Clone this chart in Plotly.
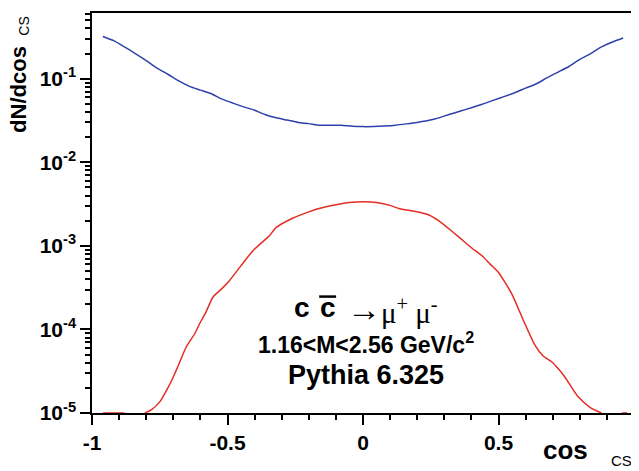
import plotly.graph_objects as go

# ---------------- data ----------------
blue_x = [-0.96, -0.92, -0.88, -0.84, -0.80, -0.76, -0.72, -0.68, -0.64, -0.60, -0.56,
          -0.52, -0.48, -0.44, -0.40, -0.36, -0.32, -0.28, -0.24, -0.20, -0.16, -0.12,
          -0.08, -0.04, 0.00, 0.04, 0.08, 0.12, 0.16, 0.20, 0.24, 0.28, 0.32, 0.36,
          0.40, 0.44, 0.48, 0.52, 0.56, 0.60, 0.64, 0.68, 0.72, 0.76, 0.80, 0.84,
          0.88, 0.92, 0.96]
blue_y = [0.320, 0.285, 0.240, 0.200, 0.165, 0.134, 0.113, 0.094, 0.081, 0.073, 0.066,
          0.057, 0.051, 0.046, 0.042, 0.037, 0.034, 0.032, 0.030, 0.029, 0.0277, 0.0278,
          0.0277, 0.0270, 0.0267, 0.0268, 0.0272, 0.0278, 0.0288, 0.0300, 0.0316, 0.0340, 0.0375, 0.0410,
          0.0450, 0.0495, 0.0550, 0.0610, 0.0680, 0.0770, 0.0870, 0.1030, 0.1200, 0.1400, 0.1700, 0.2000,
          0.2400, 0.2750, 0.3070]

red_x = [-0.96, -0.88, None,
         -0.805, -0.78, -0.75, -0.72, -0.70, -0.68, -0.652, -0.62, -0.603, -0.58,
         -0.554, -0.52, -0.493, -0.45, -0.407, -0.38, -0.346, -0.321, -0.26, -0.20,
         -0.162, -0.10, -0.05, 0.00, 0.05, 0.10, 0.132, 0.194, 0.243, 0.279, 0.304,
         0.353, 0.40, 0.439, 0.47, 0.50, 0.549, 0.592, 0.635, 0.665, 0.696, 0.72,
         0.745, 0.794, 0.84, 0.88, None, 0.955, 0.975]
red_y = [1e-5, 1e-5, None,
         1.0e-5, 1.1e-5, 1.36e-5, 2.0e-5, 2.7e-5, 3.8e-5, 6.2e-5, 9.0e-5, 1.17e-4, 1.6e-4,
         2.43e-4, 3.1e-4, 3.83e-4, 5.8e-4, 8.7e-4, 1.05e-3, 1.31e-3, 1.65e-3, 2.14e-3, 2.55e-3,
         2.8e-3, 3.1e-3, 3.3e-3, 3.37e-3, 3.3e-3, 3.05e-3, 2.8e-3, 2.57e-3, 2.34e-3, 2.0e-3, 1.73e-3,
         1.28e-3, 9.5e-4, 7.6e-4, 6.0e-4, 4.8e-4, 2.66e-4, 1.28e-4, 6.45e-5, 4.8e-5, 4.1e-5, 3.4e-5,
         2.7e-5, 1.56e-5, 1.15e-5, 1.0e-5, None, 1e-5, 1e-5]

x_tickvals = [-1, -0.5, 0, 0.5, 1]
x_ticktext = ["-1", "-0.5", "0", "0.5", "1"]
y_tickvals = [1e-5, 1e-4, 1e-3, 1e-2, 1e-1]
y_ticktext = ["10<sup>-5</sup>", "10<sup>-4</sup>", "10<sup>-3</sup>", "10<sup>-2</sup>", "10<sup>-1</sup>"]

# ---------------- layout helpers ----------------
# page body has an 8px default margin: figure is drawn offset by (8, 8)
OFF = 8
W, H = 639 - OFF, 471 - OFF
# plot area in page pixels
L, R, T, B = 92, 636, 11, 413


def pxx(x):
    return (x - L) / (R - L)


def pxy(y):
    return (B - y) / (B - T)


y_minor = [k * 10 ** e for e in range(-5, 0) for k in range(2, 10)]
y_minor = [v for v in y_minor if v < 0.61]

FONT = "Liberation Sans, Arial, Helvetica, sans-serif"
SERIF = "Liberation Serif, DejaVu Serif, serif"

fig = go.Figure()
fig.add_trace(go.Scatter(x=blue_x, y=blue_y, mode="lines",
                         line=dict(color="rgb(45,65,170)", width=1.5, shape="spline", smoothing=0.6),
                         showlegend=False, hoverinfo="skip"))
fig.add_trace(go.Scatter(x=red_x, y=red_y, mode="lines", connectgaps=False,
                         line=dict(color="rgb(228,45,35)", width=1.5, shape="spline", smoothing=0.6),
                         showlegend=False, hoverinfo="skip"))

fig.update_layout(
    width=W, height=H, autosize=False,
    margin=dict(l=L - OFF, r=(W + OFF) - R, t=T - OFF, b=(H + OFF) - B, pad=0),
    paper_bgcolor="white", plot_bgcolor="white",
    xaxis=dict(range=[-1, 1], showgrid=False, zeroline=False,
               showline=True, linecolor="black", linewidth=1.5, mirror=True,
               layer="below traces",
               tickmode="array", tickvals=x_tickvals, ticktext=x_ticktext,
               ticks="outside", ticklen=10, tickwidth=1.5, tickcolor="black",
               tickfont=dict(family=FONT, size=21, color="black", weight="bold"),
               minor=dict(ticks="outside", ticklen=5, tickwidth=1.5, tickcolor="black",
                          dtick=0.1, tick0=0, showgrid=False)),
    yaxis=dict(type="log", range=[-5, -0.214], showgrid=False, zeroline=False,
               showline=True, linecolor="black", linewidth=1.5, mirror=True,
               layer="below traces",
               tickmode="array", tickvals=y_tickvals, ticktext=y_ticktext,
               ticks="outside", ticklen=10, tickwidth=1.5, tickcolor="black",
               tickfont=dict(family=FONT, size=21, color="black", weight="bold"),
               minor=dict(ticks="outside", ticklen=5, tickwidth=1.5, tickcolor="black",
                          tickmode="array", tickvals=y_minor, showgrid=False)),
)

annots = []
# axis titles
annots.append(dict(text="<b>cos</b>", x=pxx(567), y=pxy(450), font=dict(family=FONT, size=26, color="black")))
annots.append(dict(text="CS", x=pxx(623), y=pxy(461), font=dict(family=FONT, size=15, color="black")))
annots.append(dict(text="<b>dN/dcos</b>", x=pxx(18), y=pxy(88), textangle=-90,
                   font=dict(family=FONT, size=22, color="black")))
annots.append(dict(text="CS", x=pxx(23.5), y=pxy(24), textangle=-90,
                   font=dict(family=FONT, size=14, color="black")))
# text block
annots.append(dict(text="<b>c</b>", x=pxx(302.5), y=pxy(307), font=dict(family=FONT, size=28, color="black")))
annots.append(dict(text="<b>c</b>", x=pxx(328.5), y=pxy(307), font=dict(family=FONT, size=28, color="black")))
annots.append(dict(text="→", x=pxx(365), y=pxy(309), font=dict(family=SERIF, size=34, color="black")))
annots.append(dict(text="μ<sup>+</sup> μ<sup>-</sup>", x=pxx(411), y=pxy(310),
                   font=dict(family=SERIF, size=29, color="black")))
annots.append(dict(text="<b>1.16&lt;M&lt;2.56 GeV/c<sup>2</sup></b>", x=pxx(367), y=pxy(343),
                   font=dict(family=FONT, size=23, color="black")))
annots.append(dict(text="<b>Pythia 6.325</b>", x=pxx(367), y=pxy(375),
                   font=dict(family=FONT, size=27, color="black")))

for a in annots:
    a.update(xref="paper", yref="paper", showarrow=False, xanchor="center", yanchor="middle")
fig.update_layout(annotations=annots)

# overline of the anti-charm c
fig.add_shape(type="line", xref="paper", yref="paper",
              x0=pxx(320), x1=pxx(337), y0=pxy(296), y1=pxy(296),
              line=dict(color="black", width=2.5))

fig.write_html("out.html")
